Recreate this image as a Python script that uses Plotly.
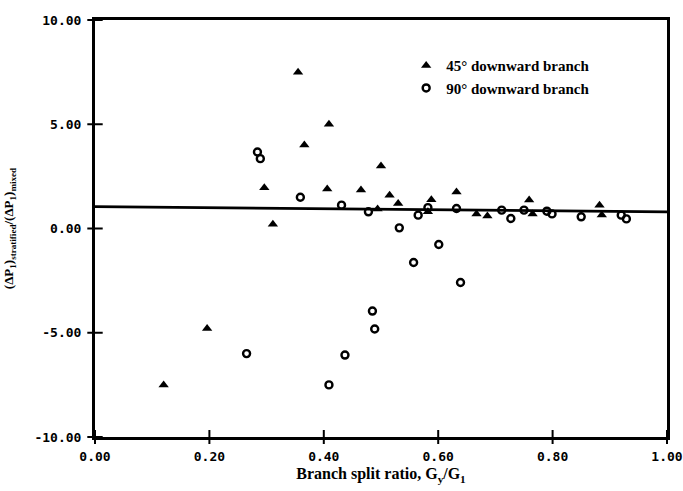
import plotly.graph_objects as go

# 45 degree downward branch (filled triangles)
x45 = [0.12, 0.196, 0.296, 0.311, 0.355, 0.366, 0.406, 0.409, 0.465, 0.494,
       0.50, 0.515, 0.53, 0.582, 0.588, 0.632, 0.667, 0.686, 0.759, 0.765,
       0.882, 0.886]
y45 = [-7.5, -4.8, 1.95, 0.2, 7.5, 4.0, 1.9, 5.0, 1.85, 0.93,
       3.0, 1.6, 1.2, 0.8, 1.38, 1.75, 0.7, 0.6, 1.37, 0.7,
       1.12, 0.65]

# 90 degree downward branch (open circles)
x90 = [0.265, 0.284, 0.289, 0.359, 0.409, 0.431, 0.437, 0.478, 0.485, 0.489,
       0.532, 0.557, 0.565, 0.582, 0.601, 0.632, 0.639, 0.711, 0.727, 0.75,
       0.79, 0.799, 0.85, 0.92, 0.929]
y90 = [-6.0, 3.67, 3.35, 1.5, -7.5, 1.12, -6.07, 0.8, -3.96, -4.82,
       0.03, -1.63, 0.64, 1.0, -0.77, 0.96, -2.59, 0.88, 0.48, 0.88,
       0.83, 0.7, 0.56, 0.64, 0.46]

# Reference ratio line
ref_x = [0.0, 1.0]
ref_y = [1.05, 0.8]

x_range = [0.0, 1.0]
y_range = [-10.0, 10.0]
x_ticks = [0.0, 0.2, 0.4, 0.6, 0.8, 1.0]
x_tick_labels = ["0.00", "0.20", "0.40", "0.60", "0.80", "1.00"]
y_ticks = [-10, -5, 0, 5, 10]
y_tick_labels = ["-10.00", "-5.00", "0.00", "5.00", "10.00"]

tick_font = dict(family="DejaVu Sans Mono", size=13, color="black", weight="bold")

fig = go.Figure()

x0, x1 = x_range
y0, y1 = y_range

# Tick marks on the bottom and left edges
fig.add_trace(go.Scatter(
    x=x_ticks, y=[y0] * len(x_ticks), mode="markers", cliponaxis=False,
    marker=dict(symbol="line-ns", size=10, line=dict(width=2, color="black")),
    showlegend=False, hoverinfo="skip"))
fig.add_trace(go.Scatter(
    x=[x0] * len(y_ticks), y=y_ticks, mode="markers", cliponaxis=False,
    marker=dict(symbol="line-ew", size=11, line=dict(width=2, color="black")),
    showlegend=False, hoverinfo="skip"))

fig.add_trace(go.Scatter(
    x=ref_x, y=ref_y, mode="lines",
    line=dict(color="black", width=2.8),
    showlegend=False, hoverinfo="skip"))

fig.add_trace(go.Scatter(
    x=x45, y=y45, mode="markers", name="45° downward branch",
    marker=dict(symbol="triangle-up", size=9, color="black")))

fig.add_trace(go.Scatter(
    x=x90, y=y90, mode="markers", name="90° downward branch",
    marker=dict(symbol="circle-open", size=7, color="black",
                line=dict(width=2.4, color="black"))))

fig.update_xaxes(
    range=x_range, tickmode="array", tickvals=x_ticks, ticktext=x_tick_labels,
    tickfont=tick_font, ticks="", showgrid=False, zeroline=False,
    showline=True, linewidth=3, linecolor="black", mirror=True,
    automargin=False, ticklabelstandoff=5, ticklabeloverflow="allow",
    title=dict(text="Branch split ratio, G<sub>y</sub>/G<sub>1</sub>",
               font=dict(family="Liberation Serif", size=16, color="black",
                         weight="bold"),
               standoff=6))

fig.update_yaxes(
    range=y_range, tickmode="array", tickvals=y_ticks, ticktext=y_tick_labels,
    tickfont=tick_font, ticks="", showgrid=False, zeroline=False,
    showline=True, linewidth=3, linecolor="black", mirror=True,
    automargin=False, ticklabelstandoff=8,
    title=dict(text="(ΔP<sub>1</sub>)<sub>stratified</sub>/(ΔP<sub>1</sub>)<sub>mixed</sub>",
               font=dict(family="Liberation Serif", size=13, color="black",
                         weight="bold"),
               standoff=18))

fig.update_layout(
    width=683, height=491,
    margin=dict(l=95, r=16, t=20, b=54),
    paper_bgcolor="white", plot_bgcolor="white",
    legend=dict(x=0.544, y=0.93, xanchor="left", yanchor="top",
                font=dict(family="Liberation Serif", size=15, color="black",
                          weight="bold"),
                bgcolor="rgba(0,0,0,0)", itemwidth=30, tracegroupgap=0),
    font=dict(color="black"),
)

fig.write_html("out.html")
